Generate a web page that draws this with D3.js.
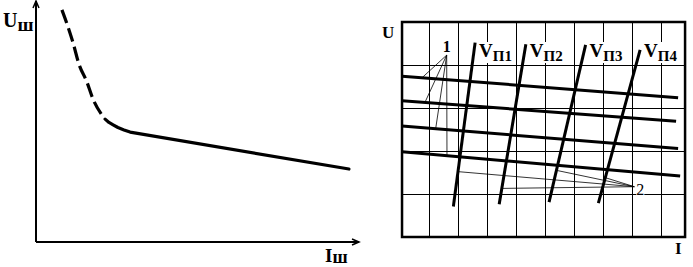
<!DOCTYPE html>
<html lang="ru">
<head>
  <meta charset="UTF-8">
  <script src="https://d3js.org/d3.v7.min.js"></script>
  <title>Характеристики</title>
  <style>
    body { margin: 0; background: #fff; }
    svg { display: block; }
    text { font-family: "Liberation Serif", "Times New Roman", serif; fill: #000; }
  </style>
</head>
<body>
  <svg id="svgWrapper" width="693" height="267"></svg>
  <script>
    // left chart: U_ш(I_ш), arbitrary units 0..10
    const curveDashed = [[0.81, 9.67], [0.97, 9.08], [1.16, 8.29], [1.34, 7.42], [1.59, 6.67], [1.78, 5.96], [2.06, 5.29]];
    const curveSolid = [[2.16, 5.12], [2.28, 4.98], [2.41, 4.88], [2.56, 4.77], [2.75, 4.67], [2.94, 4.58], [9.78, 3.04]];

    // right chart: grid, U lines (1) and V_п lines (2)
    const gridI = [1, 2, 3, 4, 5, 6, 7, 8, 9];
    const gridU = [1, 2, 3, 4];
    const frameI = [0.07, 9.83];
    const frameU = [0, 5];
    const uLines = [
      [[0.07, 3.74], [9.59, 3.24]],
      [[0.07, 3.17], [9.52, 2.69]],
      [[0.07, 2.58], [9.59, 2.06]],
      [[0.07, 1.98], [9.66, 1.42]]
    ];
    const vLines = [
      [[1.84, 0.71], [2.59, 4.52]],
      [[3.42, 0.76], [4.34, 4.48]],
      [[5.14, 0.81], [6.40, 4.47]],
      [[6.84, 0.79], [8.28, 4.35]]
    ];
    const vNames = ['П1', 'П2', 'П3', 'П4'];
    const mark1 = [1.61, 4.23];
    const mark1Targets = [0.76, 0.86, 1.23, 1.62];   // I on each U line
    const mark2 = [8.08, 1.17];
    const mark2Targets = [1.52, 1.13, 1.55, 1.38];   // U on each V line

    const svgEl = d3.select('#svgWrapper');

    // ---------- left chart ----------
    const xL = d3.scaleLinear().domain([0, 10]).range([36, 356]);
    const yL = d3.scaleLinear().domain([0, 10]).range([242, 2]);
    const left = svgEl.append('g');

    left.append('line')
      .attr('x1', xL(0)).attr('y1', yL(0))
      .attr('x2', xL(0)).attr('y2', 1)
      .attr('stroke', '#000').attr('stroke-width', 2);
    left.append('line')
      .attr('x1', xL(0)).attr('y1', yL(0))
      .attr('x2', 359).attr('y2', yL(0))
      .attr('stroke', '#000').attr('stroke-width', 2);
    // open arrow heads
    left.append('path')
      .attr('d', `M${xL(0) - 3},8 L${xL(0)},1 L${xL(0) + 3},8`)
      .attr('fill', 'none').attr('stroke', '#000').attr('stroke-width', 1.5);
    left.append('path')
      .attr('d', `M352,${yL(0) - 3} L359,${yL(0)} L352,${yL(0) + 3}`)
      .attr('fill', 'none').attr('stroke', '#000').attr('stroke-width', 1.5);

    const lineL = d3.line().x(d => xL(d[0])).y(d => yL(d[1]));
    left.append('path')
      .attr('d', lineL.curve(d3.curveMonotoneX)(curveDashed))
      .attr('fill', 'none').attr('stroke', '#000').attr('stroke-width', 3.2)
      .attr('stroke-dasharray', '14,5.5');
    left.append('path')
      .attr('d', lineL.curve(d3.curveLinear)(curveSolid))
      .attr('fill', 'none').attr('stroke', '#000').attr('stroke-width', 3.2)
      .attr('stroke-linecap', 'round').attr('stroke-linejoin', 'round');

    const uLab = left.append('text').attr('x', 3).attr('y', 27)
      .attr('font-size', 20).attr('font-weight', 'bold').text('U');
    uLab.append('tspan').attr('dy', 4).attr('font-size', 19).text('ш');
    const iLab = left.append('text').attr('x', 325).attr('y', 262)
      .attr('font-size', 19).attr('font-weight', 'bold').text('I');
    iLab.append('tspan').attr('dy', 1).attr('font-size', 18).text('ш');

    // ---------- right chart ----------
    const xR = d3.scaleLinear().domain([0, 10]).range([400, 690]);
    const yR = d3.scaleLinear().domain([0, 5]).range([237, 22]);
    const right = svgEl.append('g');

    right.selectAll('.gi').data(gridI).enter().append('line')
      .attr('x1', d => Math.round(xR(d)) + 0.5).attr('x2', d => Math.round(xR(d)) + 0.5)
      .attr('y1', yR(frameU[0])).attr('y2', yR(frameU[1]))
      .attr('stroke', '#000').attr('stroke-width', 1);
    right.selectAll('.gu').data(gridU).enter().append('line')
      .attr('y1', d => Math.round(yR(d)) + 0.5).attr('y2', d => Math.round(yR(d)) + 0.5)
      .attr('x1', xR(frameI[0])).attr('x2', xR(frameI[1]))
      .attr('stroke', '#000').attr('stroke-width', 1);

    const lineR = d3.line().x(d => xR(d[0])).y(d => yR(d[1]));
    const onLine = (seg, i) => {
      const t = (i - seg[0][0]) / (seg[1][0] - seg[0][0]);
      return [i, seg[0][1] + t * (seg[1][1] - seg[0][1])];
    };
    const onV = (seg, u) => {
      const t = (u - seg[0][1]) / (seg[1][1] - seg[0][1]);
      return [seg[0][0] + t * (seg[1][0] - seg[0][0]), u];
    };

    // leader lines
    right.selectAll('.l1').data(mark1Targets).enter().append('path')
      .attr('d', (d, k) => lineR([mark1, onLine(uLines[k], d)]))
      .attr('stroke', '#000').attr('stroke-width', 0.8).attr('fill', 'none');
    right.selectAll('.l2').data(mark2Targets).enter().append('path')
      .attr('d', (d, k) => lineR([mark2, onV(vLines[k], d)]))
      .attr('stroke', '#000').attr('stroke-width', 0.8).attr('fill', 'none');

    right.selectAll('.ul').data(uLines).enter().append('path')
      .attr('d', lineR)
      .attr('stroke', '#000').attr('stroke-width', 3).attr('fill', 'none');
    right.selectAll('.vl').data(vLines).enter().append('path')
      .attr('d', lineR)
      .attr('stroke', '#000').attr('stroke-width', 3).attr('fill', 'none');

    // labels with white knock-out behind them
    const labelled = (g, make) => {
      const box = g.append('rect').attr('fill', '#fff');
      const t = make(g);
      const b = t.node().getBBox();
      box.attr('x', b.x).attr('y', b.y + 2).attr('width', b.width).attr('height', b.height - 3);
    };

    vLines.forEach((seg, k) => {
      labelled(right.append('g'), g => {
        const t = g.append('text')
          .attr('x', xR(seg[1][0]) + 4).attr('y', 57)
          .attr('font-size', 19).attr('font-weight', 'bold').text('V');
        t.append('tspan').attr('dy', 4).attr('font-size', 15).text(vNames[k]);
        return t;
      });
    });
    labelled(right.append('g'), g => g.append('text')
      .attr('x', xR(mark1[0])).attr('y', yR(mark1[1]) - 3)
      .attr('text-anchor', 'middle')
      .attr('font-size', 16).attr('font-weight', 'bold').text('1'));
    labelled(right.append('g'), g => g.append('text')
      .attr('x', xR(mark2[0]) + 2).attr('y', yR(mark2[1]) + 8.5)
      .attr('font-size', 16).text('2'));

    right.append('rect')
      .attr('x', xR(frameI[0])).attr('y', yR(frameU[1]))
      .attr('width', xR(frameI[1]) - xR(frameI[0]))
      .attr('height', yR(frameU[0]) - yR(frameU[1]))
      .attr('fill', 'none').attr('stroke', '#000').attr('stroke-width', 2.5);

    right.append('text').attr('x', 382).attr('y', 38)
      .attr('font-size', 17).attr('font-weight', 'bold').text('U');
    right.append('text').attr('x', 675).attr('y', 254)
      .attr('font-size', 17).attr('font-weight', 'bold').text('I');
  </script>
</body>
</html>
